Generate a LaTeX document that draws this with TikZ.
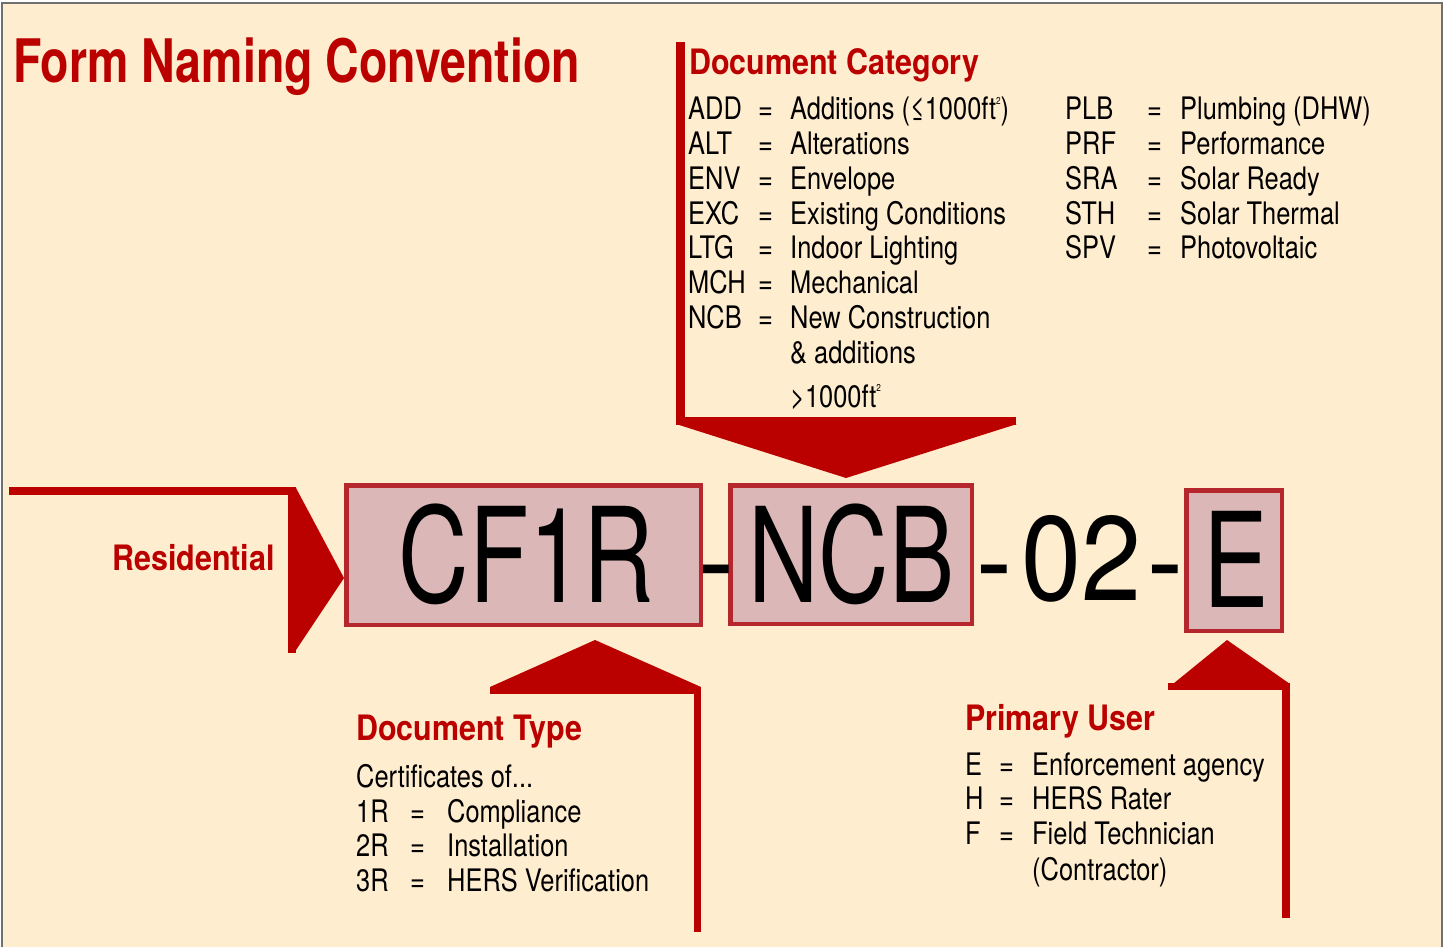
\documentclass[tikz,border=0pt]{standalone}
\usepackage{fontspec}
\setmainfont{TeX Gyre Heros}[FakeStretch=0.82]
\newfontfamily\titlefont{TeX Gyre Heros}[FakeStretch=0.775]
\newfontfamily\headfont{TeX Gyre Heros}[FakeStretch=0.87]
\newfontfamily\codefont{TeX Gyre Heros}[FakeStretch=0.74]
\newfontfamily\numfont{TeX Gyre Heros}[FakeStretch=0.9]
\usetikzlibrary{positioning, calc}
\definecolor{cream}{HTML}{FFEDD0}
\definecolor{formred}{HTML}{BB0000}
\definecolor{boxfill}{HTML}{DBB7B7}
\definecolor{boxline}{HTML}{B5272D}
\definecolor{framegray}{HTML}{707070}
\newcommand{\sqsup}{\raisebox{0.5em}{\fontsize{10}{10}\selectfont 2}}
\tikzset{
  titletext/.style={anchor=base west, inner sep=0pt, text=formred, font=\titlefont\bfseries\fontsize{60}{60}\selectfont},
  headtext/.style={anchor=base west, inner sep=0pt, text=formred, font=\headfont\bfseries\fontsize{35}{35}\selectfont},
  itemtext/.style={anchor=base west, inner sep=0pt, font=\fontsize{31}{31}\selectfont},
  codebox/.style={draw=boxline, line width=4.5pt, fill=boxfill, inner sep=0pt},
  codetext/.style={anchor=base, inner sep=0pt, font=\codefont\fontsize{132}{132}\selectfont},
  numtext/.style={anchor=base, inner sep=0pt, font=\numfont\fontsize{120}{120}\selectfont},
  pointer/.style={draw=formred, line width=8pt},
  pointerhead/.style={fill=formred},
}
\begin{document}
\begin{tikzpicture}[x=1pt, y=-1pt]
\useasboundingbox (0,0) rectangle (1445,947);
\fill[cream] (2,3) rectangle (1442,947);
\draw[framegray, line width=2pt] (2,947) -- (2,3) -- (1442,3) -- (1442,947);

\node[titletext] (title) at (13,83) {Form Naming Convention};

% code boxes
\node[codebox, minimum width=354.5, minimum height=139.5] (cf1r) at (523.5,555) {};
\node[codebox, minimum width=241.5, minimum height=138.5] (ncb) at (851,554.5) {};
\node[codebox, minimum width=95.5, minimum height=140.5] (user) at (1234,560.5) {};
\node[codetext] (cf1rtext) at (526.5,602) {CF1R};
\node[numtext] (dasha) at (716,602) {-};
\node[codetext] (ncbtext) at (851.5,602) {NCB};
\node[numtext] (dashb) at (994.5,602) {-};
\node[numtext] (version) at (1081.5,600) {02};
\node[numtext] (dashc) at (1165,602) {-};
\node[codetext] (usertext) at (1236,607) {E};

% residential
\node[headtext, anchor=base east] (res) at (275,570) {Residential};
\coordinate (resstart) at (9,491);
\coordinate (resend) at (292,653);
\draw[pointer] (resstart) -| (resend);
\fill[pointerhead] (296,488) -- (cf1r.west |- 0,578) -- (296,650) -- cycle;

% document category
\node[headtext] (cathead) at (689,75) {Document Category};
\foreach \code/\desc [count=\i from 0] in {ADD/{Additions (≤1000ft\sqsup)}, ALT/Alterations, ENV/Envelope, EXC/Existing Conditions, LTG/Indoor Lighting, MCH/Mechanical, NCB/New Construction}{
  \node[itemtext] (catcode\i) at (688,{120+34.7*\i}) {\code};
  \node[itemtext] (cateq\i) at (758,{120+34.7*\i}) {=};
  \node[itemtext] (catdesc\i) at (790,{120+34.7*\i}) {\desc};
}
\node[itemtext] (catmore) at (790,363) {\& additions};
\node[itemtext] (catsize) at (790,407) {>1000ft\sqsup};
\foreach \code/\desc [count=\i from 0] in {PLB/Plumbing (DHW), PRF/Performance, SRA/Solar Ready, STH/Solar Thermal, SPV/Photovoltaic}{
  \node[itemtext] (solcode\i) at (1065,{120+34.7*\i}) {\code};
  \node[itemtext] (soleq\i) at (1147,{120+34.7*\i}) {=};
  \node[itemtext] (soldesc\i) at (1180,{120+34.7*\i}) {\desc};
}
\coordinate (catstart) at (680.5,42);
\coordinate (catend) at (1016,421);
\draw[pointer, line width=8.5pt] (catstart) |- (catend);
\fill[pointerhead] (676,424) -- (1017,424) -- (846,478) -- cycle;

% document type
\node[headtext] (typehead) at (356,740) {Document Type};
\node[itemtext] (typeintro) at (356,787) {Certificates of...};
\foreach \code/\desc [count=\i from 0] in {1R/Compliance, 2R/Installation, 3R/HERS Verification}{
  \node[itemtext] (typecode\i) at (356,{822+34.5*\i}) {\code};
  \node[itemtext] (typeeq\i) at (410,{822+34.5*\i}) {=};
  \node[itemtext] (typedesc\i) at (447,{822+34.5*\i}) {\desc};
}
\coordinate (typestart) at (697,932);
\coordinate (typeend) at (490,690);
\draw[pointer, line width=7pt] (typestart) |- (typeend);
\fill[pointerhead] (490,687) -- (701,687) -- (595,640) -- cycle;

% primary user
\node[headtext] (userhead) at (965,730) {Primary User};
\foreach \code/\desc [count=\i from 0] in {E/Enforcement agency, H/HERS Rater, F/Field Technician}{
  \node[itemtext] (usercode\i) at (965,{775+34.5*\i}) {\code};
  \node[itemtext] (usereq\i) at (999,{775+34.5*\i}) {=};
  \node[itemtext] (userdesc\i) at (1032,{775+34.5*\i}) {\desc};
}
\node[itemtext] (usermore) at (1032,880) {(Contractor)};
\coordinate (userstart) at (1286,918);
\coordinate (userend) at (1168,686.5);
\draw[pointer, line width=7.5pt] (userstart) |- (userend);
\fill[pointerhead] (1168,688) -- (1290,684) -- (1227,640) -- cycle;
\end{tikzpicture}
\end{document}
